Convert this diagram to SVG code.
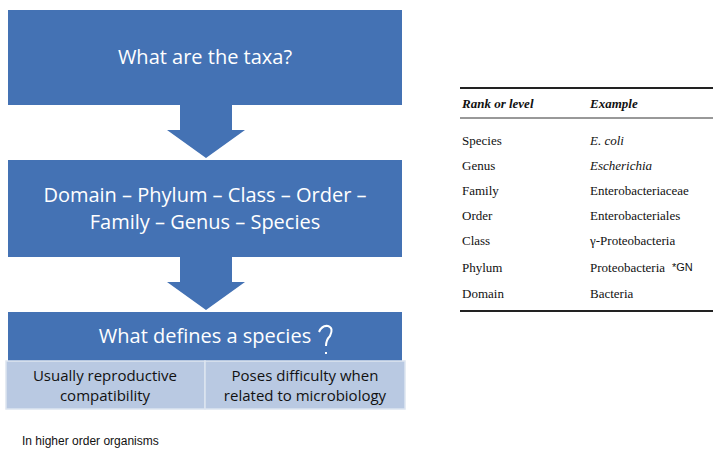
<svg xmlns="http://www.w3.org/2000/svg" width="720" height="461" viewBox="0 0 720 461">
<style>
.b{fill:#4472b4}
.w{fill:#fff;font-family:"Open Sans","Liberation Sans",sans-serif;text-anchor:middle}
.c{fill:#b9c9e2;stroke:#dde5f0;stroke-width:1.5}
.ct{fill:#111;font-family:"Open Sans","Liberation Sans",sans-serif;font-size:15px;text-anchor:middle}
.t{font-family:"Liberation Serif",serif;font-size:13px;fill:#111}
.i{font-style:italic}
</style>
<rect width="720" height="461" fill="#fff"/>
<g id="box1"><rect class="b" x="8" y="10" width="394" height="95"/><text class="w" x="205" y="64" font-size="20">What are the taxa?</text></g>
<g id="connectors">
<polygon class="b" points="180,105 232,105 232,130 245,130 206,158 167,130 180,130"/>
<polygon class="b" points="180,257 232,257 232,282 245,282 206,310 167,282 180,282"/>
<path d="M184,350 L176,358 M176,352 L176,358 L183,358" stroke="#fff" stroke-width="1.6" fill="none"/>
<path d="M258,351 Q266,353 270,358 M264,359 L270,358 L269,352" stroke="#fff" stroke-width="1.6" fill="none"/>
</g>
<g id="box2"><rect class="b" x="8" y="160" width="394" height="97"/>
<text class="w" x="205" y="202" font-size="20">Domain – Phylum – Class – Order –</text>
<text class="w" x="205" y="229" font-size="20">Family – Genus – Species</text></g>
<g id="box3"><rect class="b" x="8" y="312" width="394" height="49"/>
<text class="w" x="205" y="343" font-size="20">What defines a species</text>
<path d="M319,332 Q322,325 328,326 Q334,328 330,336 Q326,340 326,346 M326,352 L326,354" stroke="#fff" stroke-width="2" fill="none"/></g>
<g id="cellL"><rect class="c" x="6" y="361" width="199" height="48"/>
<text class="ct" x="105" y="381">Usually reproductive</text><text class="ct" x="105" y="401">compatibility</text></g>
<g id="cellR"><rect class="c" x="205" y="361" width="200" height="48"/>
<text class="ct" x="305" y="381">Poses difficulty when</text><text class="ct" x="305" y="401">related to microbiology</text></g>
<text x="22" y="445" font-family="Liberation Sans,sans-serif" font-size="12" fill="#111">In higher order organisms</text>
<g id="table">
<line x1="460" y1="88" x2="713" y2="88" stroke="#222" stroke-width="2"/>
<line x1="460" y1="118" x2="713" y2="118" stroke="#333" stroke-width="1"/>
<line x1="460" y1="311" x2="713" y2="311" stroke="#222" stroke-width="2"/>
<text class="t i" x="462" y="108" font-weight="bold">Rank or level</text>
<text class="t i" x="590" y="108" font-weight="bold">Example</text>
<text class="t" x="462" y="145">Species</text><text class="t i" x="590" y="145">E. coli</text>
<text class="t" x="462" y="170">Genus</text><text class="t i" x="590" y="170">Escherichia</text>
<text class="t" x="462" y="195">Family</text><text class="t" x="590" y="195">Enterobacteriaceae</text>
<text class="t" x="462" y="220">Order</text><text class="t" x="590" y="220">Enterobacteriales</text>
<text class="t" x="462" y="245">Class</text><text class="t" x="590" y="245">γ-Proteobacteria</text>
<text class="t" x="462" y="272">Phylum</text><text class="t" x="590" y="272">Proteobacteria</text>
<text x="672" y="271" font-family="Liberation Sans,sans-serif" font-size="11" fill="#111">*GN</text>
<text class="t" x="462" y="298">Domain</text><text class="t" x="590" y="298">Bacteria</text>
</g>
</svg>
